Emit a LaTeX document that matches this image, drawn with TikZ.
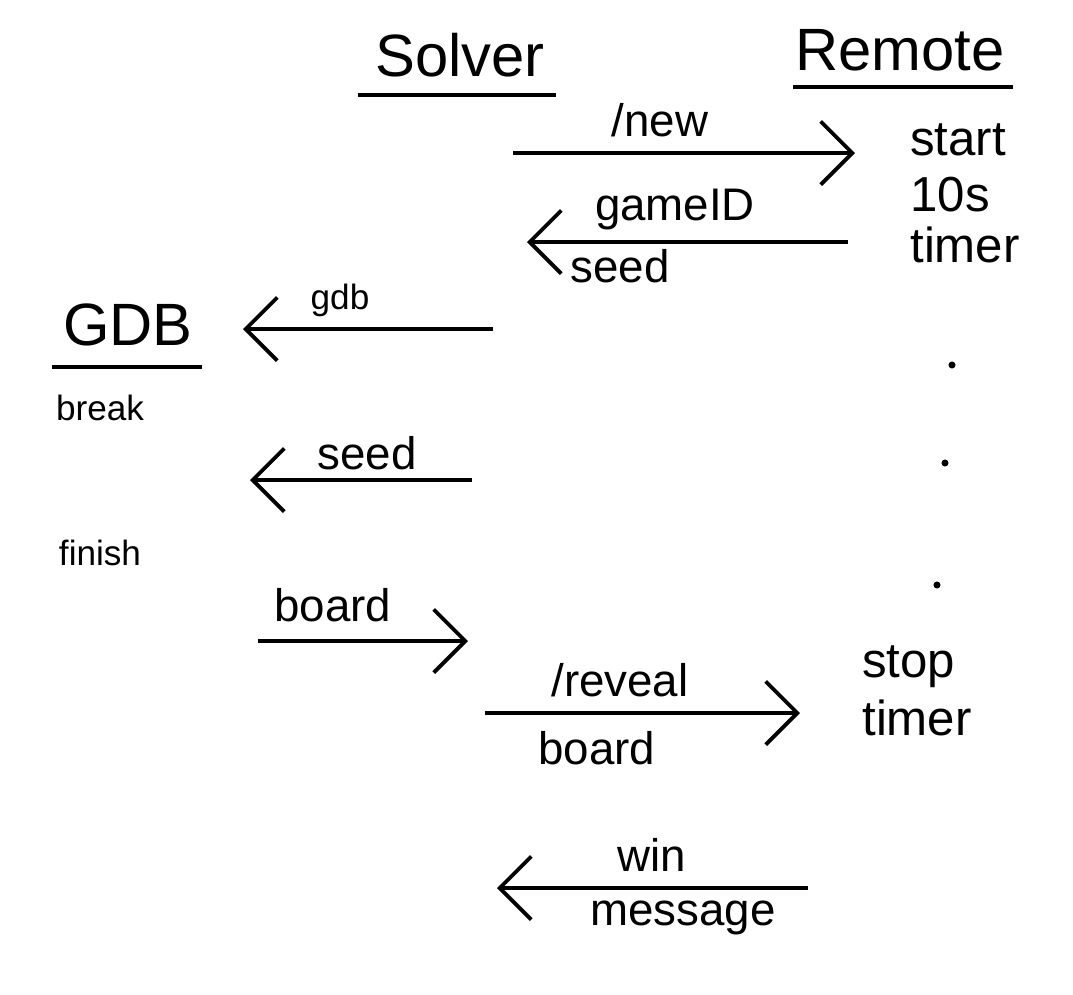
\documentclass[tikz,border=0pt]{standalone}
\usepackage{fontspec}
\setmainfont{Liberation Sans}
\usetikzlibrary{arrows.meta}
\begin{document}
\begin{tikzpicture}[x=0.02cm,y=-0.02cm,
  msg/.style={line width=2.2pt,-{Straight Barb[length=18pt,width=36pt,line width=2.2pt]}},
  uline/.style={line width=2.2pt},
  big/.style={font=\fontsize{34}{38}\selectfont,inner sep=0pt},
  lbl/.style={font=\fontsize{26}{28}\selectfont,inner sep=0pt},
  note/.style={font=\fontsize{28}{30}\selectfont,inner sep=0pt,anchor=west},
  small/.style={font=\fontsize{20}{22}\selectfont,inner sep=0pt},
  dot/.style={circle,fill=black,inner sep=0pt,minimum size=4pt}]
\useasboundingbox (0,0) rectangle (1073,995);
% headings
\node[big] (solver) at (460,55) {Solver};
\coordinate (s1) at (358,95); \coordinate (s2) at (556,95);
\draw[uline] (s1) -- (s2);
\node[big] (remote) at (900,50) {Remote};
\coordinate (r1) at (793,87); \coordinate (r2) at (1013,87);
\draw[uline] (r1) -- (r2);
\node[big] (gdb) at (128,325) {GDB};
\coordinate (g1) at (52,367); \coordinate (g2) at (202,367);
\draw[uline] (g1) -- (g2);
\node[small] (break) at (100,408) {break};
\node[small] (finish) at (100,553) {finish};
% remote notes
\node[note] (start) at (910,140) {start};
\node[note] (tens) at (910,195) {10s};
\node[note] (timer1) at (910,245) {timer};
\node[note] (stop) at (862,667) {stop};
\node[note] (timer2) at (862,718) {timer};
\node[dot] (d1) at (952,365) {};
\node[dot] (d2) at (945,463) {};
\node[dot] (d3) at (937,585) {};
% /new
\coordinate (a1) at (513,153); \coordinate (a2) at (855,153);
\draw[msg] (a1) -- (a2);
\node[lbl] (lnew) at (660,120) {/new};
% gameID seed
\coordinate (b1) at (848,242); \coordinate (b2) at (527,242);
\draw[msg] (b1) -- (b2);
\node[lbl] (lgid) at (675,210) {gameID};
\node[lbl] (lseed1) at (620,266) {seed};
% gdb
\coordinate (c1) at (493,329); \coordinate (c2) at (243,329);
\draw[msg] (c1) -- (c2);
\node[small] (lgdb) at (340,300) {gdb};
% seed
\coordinate (e1) at (472,480); \coordinate (e2) at (250,480);
\draw[msg] (e1) -- (e2);
\node[lbl] (lseed2) at (367,453) {seed};
% board
\coordinate (f1) at (258,641); \coordinate (f2) at (468,641);
\draw[msg] (f1) -- (f2);
\node[lbl] (lboard1) at (333,605) {board};
% /reveal
\coordinate (h1) at (485,713); \coordinate (h2) at (800,713);
\draw[msg] (h1) -- (h2);
\node[lbl] (lrev) at (620,680) {/reveal};
\node[lbl] (lboard2) at (597,748) {board};
% win
\coordinate (w1) at (808,888); \coordinate (w2) at (497,888);
\draw[msg] (w1) -- (w2);
\node[lbl] (lwin) at (652,855) {win};
\node[lbl] (lmsg) at (683,918) {message};
\end{tikzpicture}
\end{document}
